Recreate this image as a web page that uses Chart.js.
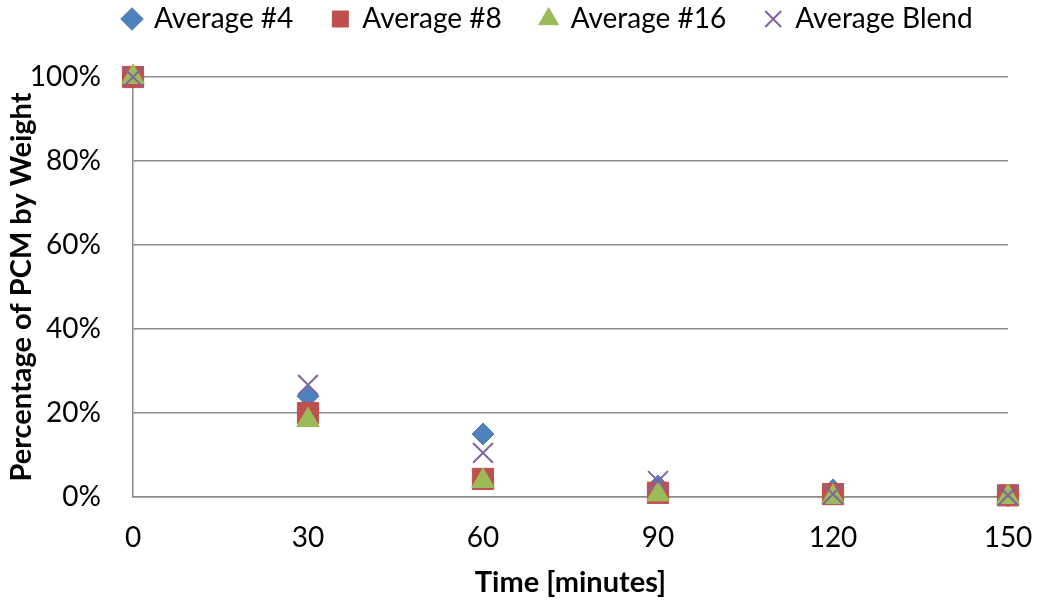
<!DOCTYPE html>
<html>
<head>
<meta charset="utf-8">
<script src="https://cdn.jsdelivr.net/npm/chart.js"></script>
<style>
  html, body { margin: 0; padding: 0; background: #fff; }
</style>
</head>
<body>
<canvas id="scatter-chart" width="1037" height="604"></canvas>
<script>
// data
const times = [0, 30, 60, 90, 120, 150];
const avg4 = [100, 24, 15, 2.6, 1.7, 0.3];
const avg8 = [100, 20, 4.3, 1, 0.7, 0.4];
const avg16 = [100, 18.3, 3.8, 0.6, 0, 0];
const avgBlend = [100, 26.7, 10.5, 3.8, 0.7, 0.4];
const seriesNames = ['Average #4', 'Average #8', 'Average #16', 'Average Blend'];
const xTicks = [0, 30, 60, 90, 120, 150];
const yTicks = [0, 20, 40, 60, 80, 100];

const gridColor = '#8a8a8a';
const fontFamily = 'Lato, "Open Sans", sans-serif';
const tickFont = { family: fontFamily, size: 28 };
const titleFont = { family: fontFamily, size: 29, weight: 'bold' };

const toPoints = (values) => times.map((t, i) => ({ x: t, y: values[i] }));

const makeSet = (label, values, style, color, radius, order) => ({
  label,
  data: toPoints(values),
  pointStyle: style,
  pointRadius: radius,
  pointHoverRadius: radius,
  backgroundColor: color,
  borderColor: color,
  borderWidth: style === 'crossRot' ? 2 : 1,
  clip: false,
  order
});

// keep the legend low and move it where the reference has it
const legendPlace = {
  id: 'legendPlace',
  beforeLayout(chart) {
    const lg = chart.legend;
    if (lg && !lg._patched) {
      const fit = lg.fit;
      lg.fit = function () { fit.call(this); this.height = 77; };
      lg._patched = true;
    }
  },
  afterLayout(chart) {
    const lg = chart.legend;
    const pad = lg.options.labels.padding;
    lg.left = 124 - pad;
    lg.right = 1200;
    lg.top = 19 - pad - 14;
  }
};

const chartElement = document.getElementById('scatter-chart');

window.scatterChart = new Chart(chartElement, {
  type: 'scatter',
  data: {
    datasets: [
      makeSet(seriesNames[0], avg4, 'rectRot', '#4F81BD', 11, 4),
      makeSet(seriesNames[1], avg8, 'rect', '#C0504D', 15, 3),
      makeSet(seriesNames[2], avg16, 'triangle', '#9BBB59', 13, 2),
      makeSet(seriesNames[3], avgBlend, 'crossRot', '#8064A2', 14, 1)
    ]
  },
  options: {
    responsive: false,
    animation: false,
    devicePixelRatio: 1,
    layout: { padding: { left: 0, right: 29, top: 0, bottom: 0 } },
    plugins: {
      tooltip: { enabled: false },
      legend: {
        position: 'top',
        align: 'start',
        labels: {
          usePointStyle: true,
          boxWidth: 16,
          boxHeight: 16,
          padding: 39,
          color: '#000',
          font: tickFont,
          sort: (a, b) => a.datasetIndex - b.datasetIndex
        }
      }
    },
    scales: {
      x: {
        type: 'linear',
        min: 0,
        max: 150,
        afterBuildTicks: (s) => { s.ticks = xTicks.map(v => ({ value: v })); },
        // no grid drawn, the tick length only pushes the labels down
        grid: { display: false, drawTicks: true, tickLength: 24 },
        border: { display: true, color: gridColor, width: 1.5 },
        ticks: { font: tickFont, color: '#000', padding: 0, maxRotation: 0 },
        title: {
          display: true,
          text: 'Time [minutes]',
          font: titleFont,
          color: '#000',
          padding: { top: 0, bottom: 4 }
        },
        afterFit: (s) => { s.height = 107; }
      },
      y: {
        min: 0,
        max: 100,
        afterBuildTicks: (s) => { s.ticks = yTicks.map(v => ({ value: v })); },
        grid: { color: gridColor, lineWidth: 1.5, drawTicks: false },
        border: { display: true, color: gridColor, width: 1.5 },
        ticks: { font: tickFont, color: '#000', padding: 32, callback: (v) => v + '%' },
        title: {
          display: true,
          text: 'Percentage of PCM by Weight',
          font: titleFont,
          color: '#000',
          padding: { top: 4, bottom: 0 }
        },
        afterFit: (s) => { s.width = 133; }
      }
    }
  },
  plugins: [legendPlace]
});
</script>
</body>
</html>
